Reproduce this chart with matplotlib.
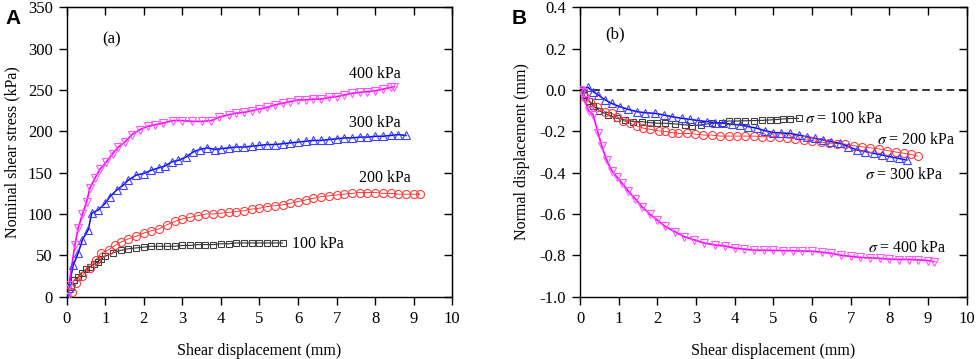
"""Shear stress and normal displacement curves for four normal stresses."""

import matplotlib.pyplot as plt

plt.rcParams["font.family"] = ["Liberation Serif", "DejaVu Serif"]
plt.rcParams["mathtext.fontset"] = "stix"

LEVELS = ["100 kPa", "200 kPa", "300 kPa", "400 kPa"]

# panel (a): shear stress (kPa) vs shear displacement (mm)
a100_x = [0, 0.1, 0.2, 0.3, 0.4, 0.5, 0.6, 0.7, 0.8, 0.9, 1.0, 1.2, 1.4, 1.6, 1.8, 2.0, 2.2,
          2.4, 2.6, 2.8, 3.0, 3.2, 3.4, 3.6, 3.8, 4.0, 4.2, 4.4, 4.6, 4.8, 5.0, 5.2, 5.4, 5.6]
a100_y = [0, 12, 20, 24, 29, 33, 36, 39, 42, 46, 49, 53, 56, 58, 59, 60, 61,
          61, 61, 61, 62, 62, 63, 63, 63, 64, 64, 65, 65, 65, 65, 65, 65, 65]

a200_x = [0, 0.15, 0.25, 0.4, 0.6, 0.75, 0.9, 1.1, 1.25, 1.4, 1.6, 1.8, 2.0, 2.2, 2.4, 2.6, 2.8,
          3.0, 3.2, 3.4, 3.6, 3.8, 4.0, 4.2, 4.4, 4.6, 4.8, 5.0, 5.2, 5.4, 5.6, 5.8, 6.0, 6.2,
          6.4, 6.6, 6.8, 7.0, 7.2, 7.4, 7.6, 7.8, 8.0, 8.2, 8.4, 8.6, 8.8, 9.0, 9.15]
a200_y = [0, 6, 16, 25, 35, 44, 53, 57, 62, 66, 70, 73, 77, 80, 82, 87, 91,
          94, 96, 98, 100, 100, 101, 102, 103, 104, 106, 107, 109, 110, 111, 113, 115, 117,
          119, 121, 122, 123, 124, 125, 126, 126, 126, 125, 125, 124, 124, 124, 124]

a300_x = [0, 0.05, 0.17, 0.3, 0.41, 0.56, 0.65, 0.82, 1.0, 1.12, 1.3, 1.47, 1.6, 1.8, 2.0, 2.2,
          2.4, 2.55, 2.72, 2.9, 3.1, 3.28, 3.45, 3.65, 3.85, 4.0, 4.2, 4.4, 4.6, 4.8, 5.0, 5.2,
          5.4, 5.6, 5.8, 6.0, 6.2, 6.4, 6.6, 6.8, 7.0, 7.2, 7.4, 7.6, 7.8, 8.0, 8.2, 8.4, 8.6, 8.8]
a300_y = [0, 10, 38, 53, 69, 81, 101, 105, 113, 121, 129, 135, 141, 147, 149, 153,
          156, 158, 163, 165, 169, 175, 178, 180, 178, 179, 180, 181, 181, 182, 183, 184,
          184, 185, 186, 187, 188, 189, 189, 190, 191, 192, 192, 193, 193, 194, 194, 195, 196, 195]

a400_x = [0, 0.06, 0.21, 0.3, 0.41, 0.52, 0.6, 0.73, 0.86, 1.03, 1.19, 1.34, 1.51, 1.69, 1.9,
          2.1, 2.3, 2.5, 2.75, 3.0, 3.25, 3.5, 3.75, 3.95, 4.2, 4.4, 4.6, 4.8, 5.0, 5.2, 5.4,
          5.6, 5.8, 6.0, 6.2, 6.4, 6.6, 6.8, 7.0, 7.2, 7.4, 7.6, 7.8, 8.0, 8.2, 8.4, 8.5]
a400_y = [0, 14, 62, 83, 100, 115, 131, 143, 154, 163, 173, 181, 187, 196, 202,
          206, 208, 210, 213, 213, 212, 212, 213, 217, 220, 222, 223, 225, 227, 229, 232,
          234, 236, 238, 238, 239, 239, 241, 242, 244, 246, 247, 248, 249, 251, 253, 254]

# panel (b): normal displacement (mm) vs shear displacement (mm)
b100_x = [0, 0.09, 0.22, 0.34, 0.5, 0.73, 0.95, 1.16, 1.38, 1.6, 1.8, 2.0, 2.2, 2.46, 2.72,
          2.9, 3.14, 3.4, 3.66, 3.84, 4.06, 4.27, 4.49, 4.7, 4.91, 5.09, 5.26, 5.43, 5.65]
b100_y = [0, -0.024, -0.052, -0.077, -0.1, -0.121, -0.137, -0.145, -0.153, -0.153, -0.158,
          -0.161, -0.161, -0.164, -0.169, -0.172, -0.169, -0.161, -0.158, -0.15, -0.15,
          -0.149, -0.148, -0.147, -0.145, -0.143, -0.14, -0.138, -0.137]

b200_x = [0, 0.13, 0.26, 0.43, 0.65, 0.82, 0.95, 1.12, 1.29, 1.47, 1.64, 1.81, 2.03, 2.2, 2.37,
          2.54, 2.76, 2.97, 3.19, 3.4, 3.62, 3.84, 4.06, 4.27, 4.49, 4.7, 4.92, 5.14, 5.35,
          5.57, 5.78, 6.0, 6.22, 6.43, 6.65, 6.86, 7.08, 7.3, 7.51, 7.73, 7.94, 8.16, 8.37,
          8.55, 8.73]
b200_y = [0, -0.032, -0.056, -0.081, -0.105, -0.113, -0.129, -0.148, -0.161, -0.174, -0.185,
          -0.19, -0.198, -0.2, -0.206, -0.21, -0.21, -0.213, -0.218, -0.218, -0.223, -0.223,
          -0.223, -0.223, -0.223, -0.226, -0.226, -0.228, -0.232, -0.236, -0.24, -0.245,
          -0.252, -0.257, -0.259, -0.262, -0.27, -0.275, -0.28, -0.285, -0.293, -0.3,
          -0.306, -0.312, -0.32]

b300_x = [0, 0.2, 0.34, 0.47, 0.65, 0.82, 1.03, 1.25, 1.47, 1.68, 1.94, 2.16, 2.37, 2.63,
          2.84, 3.06, 3.28, 3.49, 3.71, 3.92, 4.14, 4.35, 4.57, 4.78, 5.0, 5.2, 5.43, 5.65,
          5.86, 6.08, 6.29, 6.5, 6.72, 6.94, 7.16, 7.38, 7.59, 7.8, 8.02, 8.24, 8.45]
b300_y = [0, 0.013, -0.008, -0.024, -0.048, -0.065, -0.081, -0.094, -0.105, -0.11, -0.113,
          -0.121, -0.129, -0.137, -0.142, -0.148, -0.153, -0.158, -0.161, -0.166, -0.169,
          -0.177, -0.185, -0.197, -0.206, -0.208, -0.21, -0.218, -0.226, -0.234, -0.242,
          -0.25, -0.258, -0.274, -0.29, -0.298, -0.306, -0.314, -0.323, -0.331, -0.339]

b400_x = [0, 0.04, 0.12, 0.22, 0.34, 0.47, 0.56, 0.69, 0.82, 0.95, 1.08, 1.25, 1.42, 1.6,
          1.8, 2.0, 2.2, 2.45, 2.7, 2.95, 3.2, 3.5, 3.75, 4.0, 4.25, 4.5, 4.75, 5.0, 5.25,
          5.5, 5.75, 6.0, 6.25, 6.5, 6.75, 7.0, 7.25, 7.5, 7.75, 8.0, 8.25, 8.5, 8.75, 9.0, 9.15]
b400_y = [0, -0.01, -0.05, -0.10, -0.12, -0.21, -0.27, -0.34, -0.39, -0.42, -0.45, -0.49,
          -0.525, -0.565, -0.60, -0.63, -0.66, -0.685, -0.71, -0.725, -0.74, -0.75, -0.755,
          -0.765, -0.77, -0.775, -0.775, -0.776, -0.777, -0.778, -0.779, -0.78, -0.785,
          -0.79, -0.80, -0.805, -0.81, -0.812, -0.815, -0.818, -0.82, -0.82, -0.822,
          -0.825, -0.83]

# (marker, marker colour, line colour, marker size, line width)
STYLES = [
    ("s", "#404040", "#303030", 4.8, 0.8),
    ("o", "#ff3c3c", "#ff2020", 5.8, 0.6),
    ("^", "#4040ff", "#0000ff", 6.2, 1.1),
    ("v", "#ff55ff", "#ff00ff", 6.2, 1.2),
]


def _plot_curve(ax, x, y, style):
    marker, mcolor, lcolor, msize, lw = style
    ax.plot(x, y, color=lcolor, lw=lw, zorder=2)
    ax.plot(x, y, ls="none", marker=marker, ms=msize, mfc="none", mec=mcolor,
            mew=0.8, zorder=3)


def _style_axes(ax, ylim, yticks):
    ax.set_xlim(0, 10)
    ax.set_xticks(range(0, 11))
    ax.set_ylim(*ylim)
    ax.set_yticks(yticks)
    ax.tick_params(direction="out", length=6, width=1, labelsize=12, pad=4)
    for spine in ax.spines.values():
        spine.set_linewidth(1.0)
    top = ax.secondary_xaxis("top")
    top.set_xticks(range(0, 11))
    top.tick_params(direction="in", length=6, width=1, labeltop=False)
    right = ax.secondary_yaxis("right")
    right.set_yticks(yticks)
    right.tick_params(direction="in", length=6, width=1, labelright=False)
    ax.set_xlabel("Shear displacement (mm)", fontsize=11.5, labelpad=12)


fig = plt.figure(figsize=(9.76, 3.59), dpi=100)
ax_a = fig.add_axes([0.0683, 0.1735, 0.3951, 0.8062])
ax_b = fig.add_axes([0.5943, 0.1735, 0.3962, 0.8062])

for x, y, style in zip([a100_x, a200_x, a300_x, a400_x],
                       [a100_y, a200_y, a300_y, a400_y], STYLES):
    _plot_curve(ax_a, x, y, style)
_style_axes(ax_a, (0, 350), range(0, 351, 50))
ax_a.set_ylabel("Nominal shear stress (kPa)", fontsize=11.5, labelpad=5)
ax_a.text(1.17, 311, "(a)", fontsize=12, ha="center", va="center")
for label, (lx, ly) in zip(LEVELS, [(5.85, 64), (8.25, 143), (8.0, 210), (8.0, 269)]):
    ax_a.text(lx, ly, label, fontsize=11.5, ha="left" if lx < 6 else "center",
              va="center")

ax_b.axhline(0, color="black", ls=(0, (5, 3)), lw=1.1, zorder=1)
for x, y, style in zip([b100_x, b200_x, b300_x, b400_x],
                       [b100_y, b200_y, b300_y, b400_y], STYLES):
    _plot_curve(ax_b, x, y, style)
yt_b = [-1.0, -0.8, -0.6, -0.4, -0.2, 0.0, 0.2, 0.4]
_style_axes(ax_b, (-1.0, 0.4), yt_b)
ax_b.set_yticklabels([f"{v:.1f}" for v in yt_b])
ax_b.set_ylabel("Normal displacement (mm)", fontsize=11.5, labelpad=7)
ax_b.text(0.9, 0.27, "(b)", fontsize=12, ha="center", va="center")
for label, (lx, ly) in zip(LEVELS, [(5.82, -0.14), (7.67, -0.24), (7.37, -0.41),
                                    (7.45, -0.765)]):
    ax_b.text(lx, ly, r"$\sigma$ = " + label, fontsize=11.5, ha="left", va="center")

for xpos, letter in [(0.006, "A"), (0.524, "B")]:
    fig.text(xpos, 0.975, letter, fontsize=15, fontweight="bold",
             family=["Liberation Sans", "DejaVu Sans"], ha="left", va="top")

fig.savefig("out.png", dpi=100)
